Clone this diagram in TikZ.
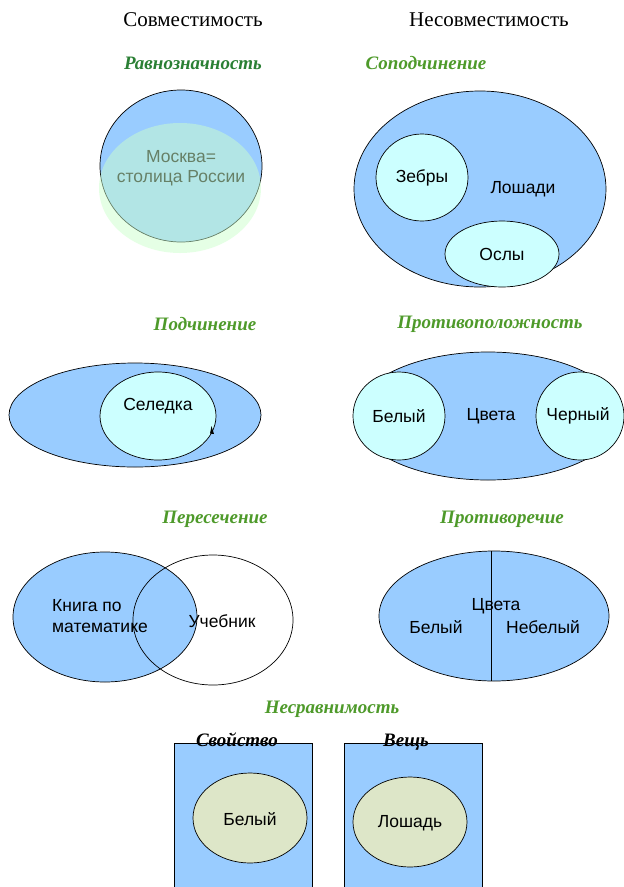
\documentclass[tikz,border=0pt]{standalone}
\usepackage{fontspec}
\setmainfont{Liberation Serif}
\newfontfamily\lsans{Liberation Sans}
\definecolor{blu}{HTML}{99CCFF}
\definecolor{cyn}{HTML}{CCFFFF}
\definecolor{grn}{HTML}{CCFFCC}
\definecolor{olv}{HTML}{DDE6C8}
\definecolor{tgreen}{HTML}{4E9A2A}
\definecolor{tgreenD}{HTML}{2A7F34}
\begin{document}
\begin{tikzpicture}[x=1pt,y=-1pt,
  hdr/.style={font=\fontsize{21}{24}\selectfont},
  ttl/.style={font=\fontsize{19}{22}\selectfont\bfseries\itshape, text=tgreen},
  lbl/.style={font=\lsans\fontsize{17.5}{20}\selectfont, inner sep=0pt},
  outl/.style={draw=black, line width=0.7pt},
  bigset/.style={outl, fill=blu},
  subset/.style={outl, fill=cyn}]
\useasboundingbox (0,0) rectangle (624,887);
\fill[white] (0,0) rectangle (624,887);
% headers
\node[hdr] (h1) at (193,20) {Совместимость};
\node[hdr] (h2) at (489,20) {Несовместимость};
% Равнозначность
\node[ttl, text=tgreenD] (t1) at (193,63) {Равнозначность};
\draw[bigset] (181,166) ellipse [x radius=81, y radius=76];
\node[lbl, align=center, font=\lsans\fontsize{17.5}{20}\selectfont] (moscow) at (181,168) {Москва=\\столица России};
\fill[grn, fill opacity=0.5] (180,188) ellipse [x radius=81, y radius=65];
% Соподчинение
\node[ttl] (t2) at (426,63) {Соподчинение};
\draw[bigset] (480,189) ellipse [x radius=126, y radius=98];
\draw[subset] (422,177.5) ellipse [x radius=46, y radius=43.5];
\draw[subset] (502,254) ellipse [x radius=57, y radius=33];
\node[lbl] (zebra) at (422,178) {Зебры};
\node[lbl] (horse) at (523,189) {Лошади};
\node[lbl] (donkey) at (502,254) {Ослы};
% Подчинение
\node[ttl] (t3) at (205,324) {Подчинение};
\draw[bigset] (135,415) ellipse [x radius=126, y radius=52];
\draw[subset] (158,416) ellipse [x radius=58, y radius=44];
\fill[black] (211.5,426) -- (214,434) -- (210,433.5) -- cycle;
\node[lbl] (herring) at (158,406) {Селедка};
% Противоположность
\node[ttl] (t4) at (490,324) {Противоположность};
\draw[bigset] (488,416) ellipse [x radius=133, y radius=64];
\draw[subset] (399,416) ellipse [x radius=46, y radius=44];
\draw[subset] (580,416) ellipse [x radius=44, y radius=44];
\node[lbl] (white1) at (399,416) {Белый};
\node[lbl] (colors1) at (491,416) {Цвета};
\node[lbl] (black1) at (578,416) {Черный};
% Пересечение
\node[ttl] (t5) at (215,519) {Пересечение};
\draw[bigset] (105,617) ellipse [x radius=92, y radius=65];
\draw[outl] (213,620) ellipse [x radius=80, y radius=65];
\node[lbl, align=left, font=\lsans\fontsize{17.5}{21}\selectfont] (mathbook) at (100,616) {Книга по\\математике};
\node[lbl] (textbook) at (222,621) {Учебник};
% Противоречие
\node[ttl] (t6) at (502,519) {Противоречие};
\draw[bigset] (494,616) ellipse [x radius=115, y radius=65];
\coordinate (ctop) at (491,551.2);
\coordinate (cbot) at (491,680.8);
\draw[outl] (ctop) -- (cbot);
\node[lbl] (colors2) at (496,606) {Цвета};
\node[lbl] (white2) at (436,627) {Белый};
\node[lbl] (nonwhite) at (543,627) {Небелый};
% Несравнимость
\node[ttl] (t7) at (332,709) {Несравнимость};
\draw[bigset] (174,743) rectangle (312,895);
\draw[bigset] (344,743) rectangle (482,895);
\draw[outl, fill=olv] (250,818) ellipse [x radius=57, y radius=45];
\draw[outl, fill=olv] (410,822) ellipse [x radius=57, y radius=45];
\node[ttl, text=black, anchor=base, inner sep=0pt] (prop) at (237,746) {Свойство};
\node[ttl, text=black, anchor=base, inner sep=0pt] (thing) at (406,746) {Вещь};
\node[lbl] (white3) at (250,819) {Белый};
\node[lbl] (horse2) at (410,823) {Лошадь};
\end{tikzpicture}
\end{document}
